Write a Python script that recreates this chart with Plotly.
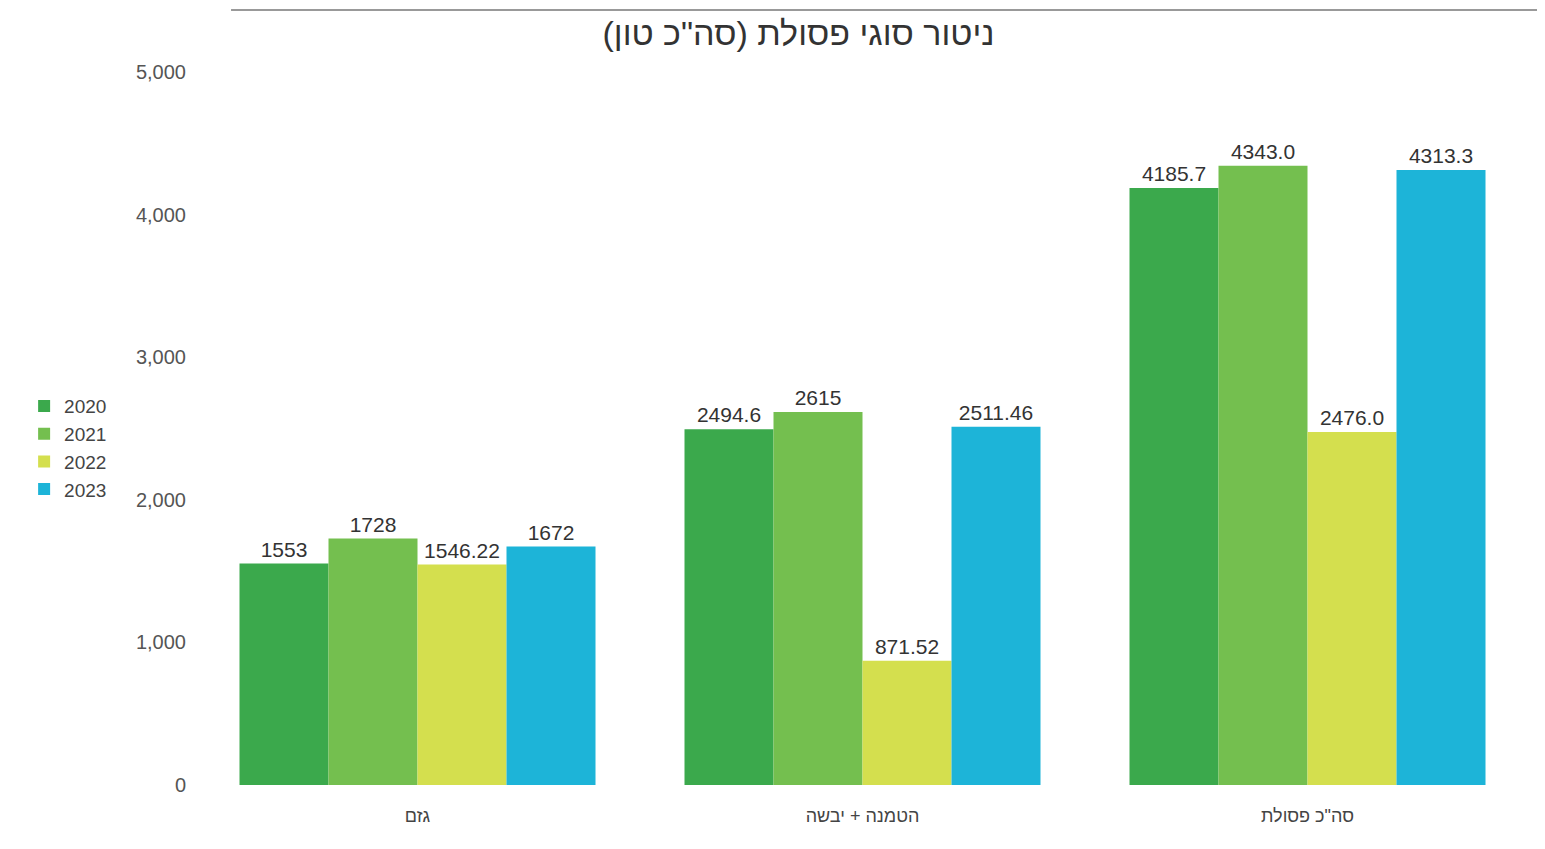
import plotly.graph_objects as go

categories = ["גזם", "הטמנה + יבשה", "סה\"כ פסולת"]
years = ["2020", "2021", "2022", "2023"]
values_2020 = [1553, 2494.6, 4185.7]
values_2021 = [1728, 2615, 4343.0]
values_2022 = [1546.22, 871.52, 2476.0]
values_2023 = [1672, 2511.46, 4313.3]
labels_2020 = ["1553", "2494.6", "4185.7"]
labels_2021 = ["1728", "2615", "4343.0"]
labels_2022 = ["1546.22", "871.52", "2476.0"]
labels_2023 = ["1672", "2511.46", "4313.3"]
title_text = "ניטור סוגי פסולת (סה\"כ טון)"

colors = ["#3ba94c", "#74bf4f", "#d4df4e", "#1db4d8"]
series = [values_2020, values_2021, values_2022, values_2023]
texts = [labels_2020, labels_2021, labels_2022, labels_2023]

fig = go.Figure()
for yr, vals, txt, col in zip(years, series, texts, colors):
    fig.add_trace(go.Bar(
        name=yr, x=categories, y=vals, text=txt,
        textposition="outside", cliponaxis=False,
        textfont=dict(size=21, color="#333333"),
        marker=dict(color=col, line=dict(width=0)),
    ))

fig.update_layout(
    width=1529, height=833,
    font=dict(family="Liberation Sans, Arial, sans-serif", color="#444444"),
    barmode="group", bargap=0.2, bargroupgap=0,
    plot_bgcolor="white", paper_bgcolor="white",
    margin=dict(l=187, r=7, t=64, b=56),
    title=dict(text=title_text + "\u200f", x=0.517, xanchor="center", y=0.97, yanchor="middle",
               font=dict(size=34, color="#333333")),
    legend=dict(x=-0.128, xanchor="left", y=0.558, yanchor="top",
                font=dict(size=19, color="#444444"), tracegroupgap=0,
                itemwidth=30, bgcolor="rgba(0,0,0,0)"),
    showlegend=True,
)
fig.update_yaxes(range=[0, 5000], tickvals=[0, 1000, 2000, 3000, 4000, 5000],
                 tickformat=",", showgrid=False, zeroline=False, showline=False,
                 tickfont=dict(size=20, color="#555555"), ticks="", ticklabelstandoff=8)
fig.update_xaxes(showgrid=False, showline=False, ticks="", ticklabelstandoff=18,
                 tickfont=dict(size=18, color="#444444"))
fig.add_shape(type="line", xref="paper", yref="paper", x0=0.027, x1=1.01, y0=1.087, y1=1.087,
              line=dict(color="#999999", width=2))
fig.write_html("out.html")
